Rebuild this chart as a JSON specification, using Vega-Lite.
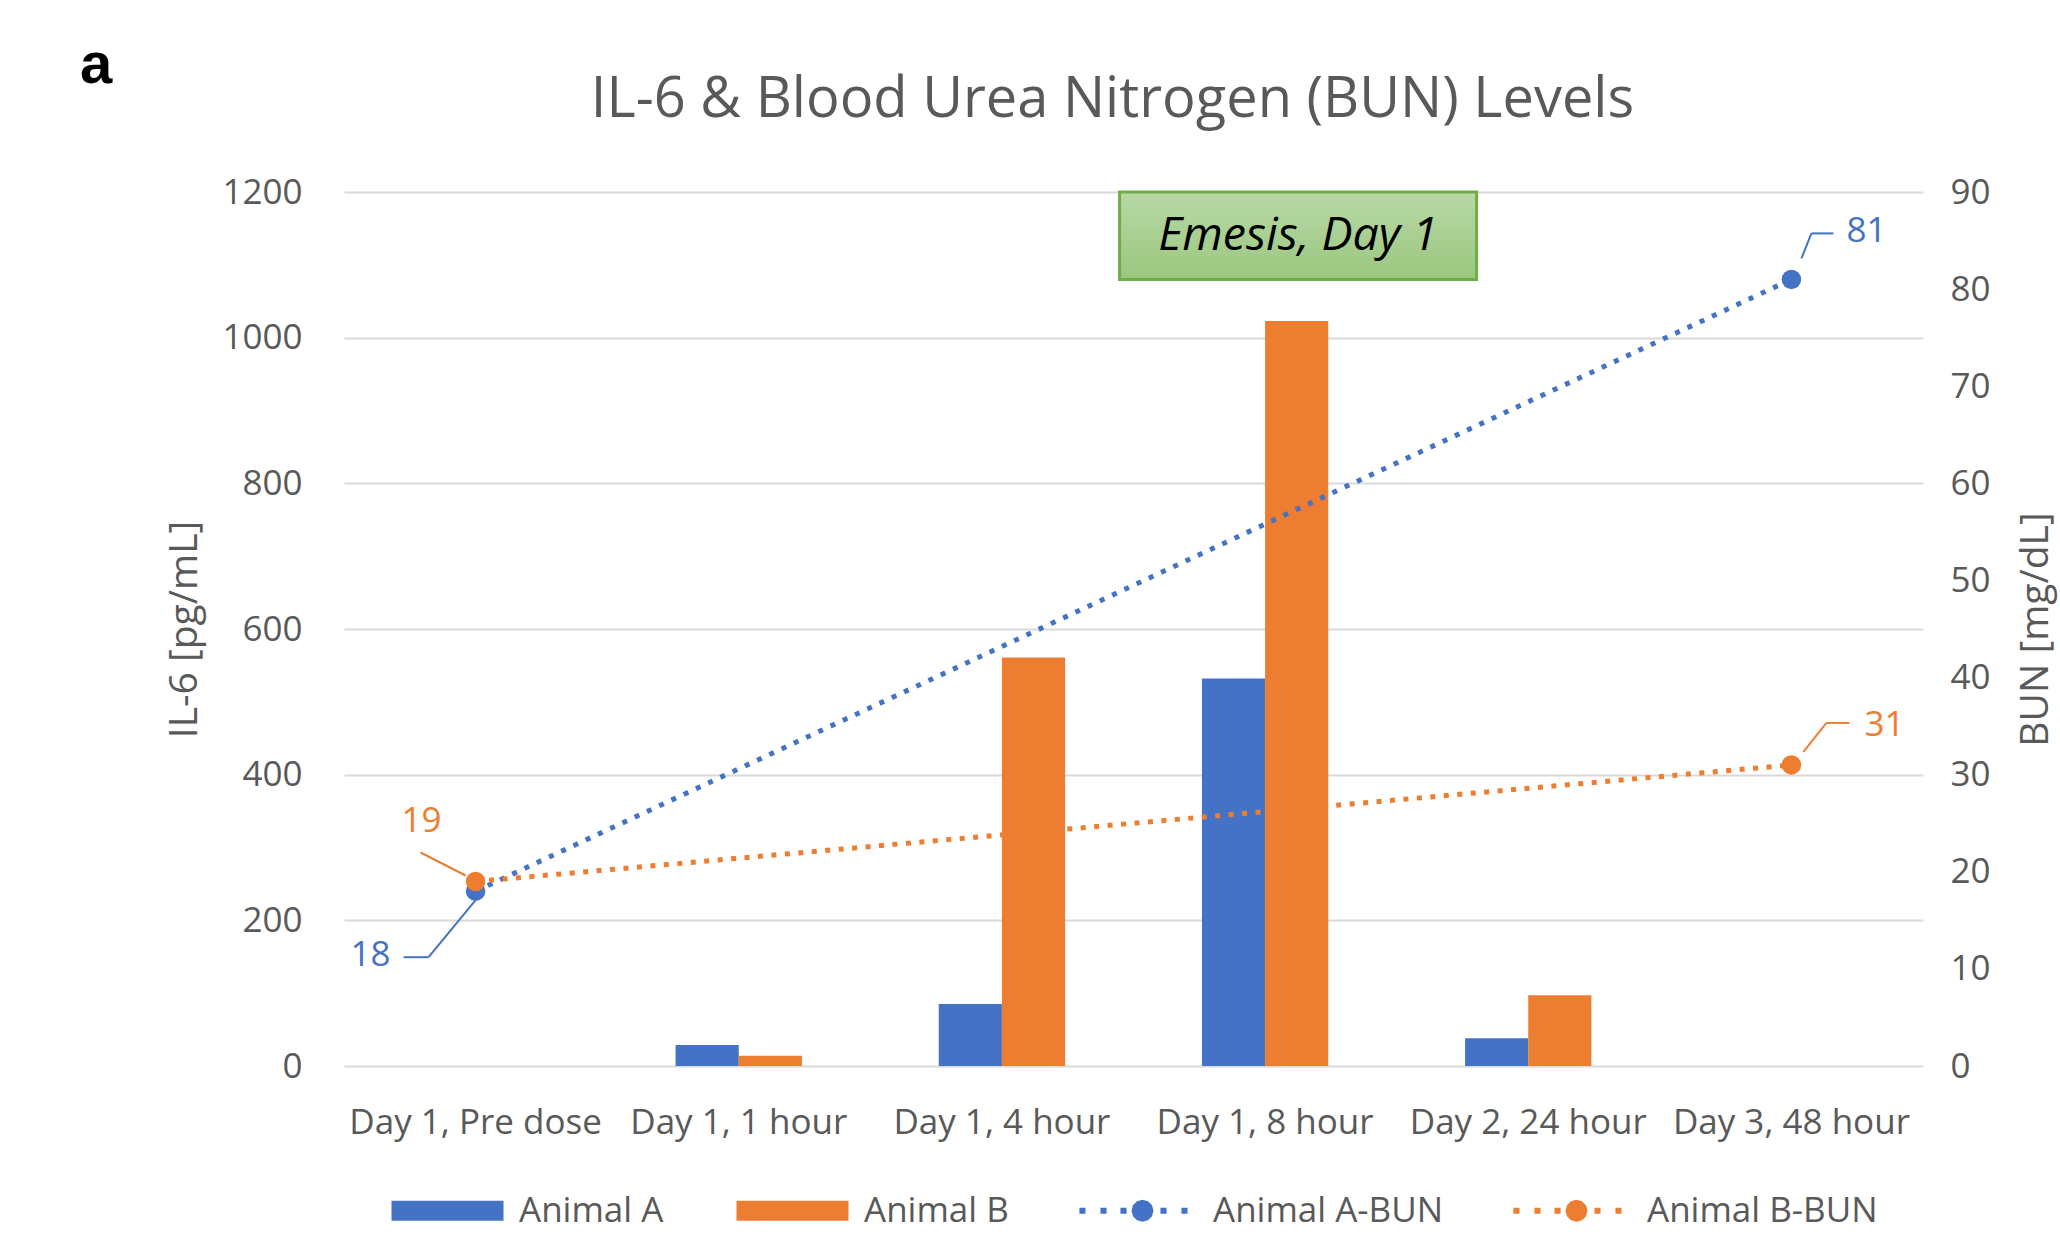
{
  "$schema": "https://vega.github.io/schema/vega-lite/v6.json",
  "background": "white",
  "padding": {"left": 79, "top": 37, "right": 6, "bottom": 7},
  "title": {"text": "a", "anchor": "start", "frame": "bounds", "font": "Liberation Sans", "fontSize": 58, "fontWeight": "bold", "color": "#000000", "dx": -86, "offset": -23},
  "datasets": {
    "il6": [
      {"time": "Day 1, 1 hour", "animal": "Animal A", "il6": 29},
      {"time": "Day 1, 1 hour", "animal": "Animal B", "il6": 14},
      {"time": "Day 1, 4 hour", "animal": "Animal A", "il6": 85},
      {"time": "Day 1, 4 hour", "animal": "Animal B", "il6": 561},
      {"time": "Day 1, 8 hour", "animal": "Animal A", "il6": 532},
      {"time": "Day 1, 8 hour", "animal": "Animal B", "il6": 1023},
      {"time": "Day 2, 24 hour", "animal": "Animal A", "il6": 38},
      {"time": "Day 2, 24 hour", "animal": "Animal B", "il6": 97}
    ],
    "bun": [
      {"time": "Day 1, Pre dose", "series": "Animal A-BUN", "bun": 18},
      {"time": "Day 3, 48 hour", "series": "Animal A-BUN", "bun": 81},
      {"time": "Day 1, Pre dose", "series": "Animal B-BUN", "bun": 19},
      {"time": "Day 3, 48 hour", "series": "Animal B-BUN", "bun": 31}
    ]
  },
  "config": {
    "view": {"stroke": null},
    "font": "Open Sans",
    "legend": {"labelFont": "Open Sans", "labelFontSize": 35, "labelColor": "#595959", "labelLimit": 400, "padding": 0, "symbolStrokeWidth": 0, "symbolOpacity": 1,
      "layout": {"bottom": {"anchor": "middle", "direction": "horizontal", "margin": 67}}}
  },
  "vconcat": [
    {
      "width": 1579,
      "height": 874,
      "title": {"text": "IL-6 & Blood Urea Nitrogen (BUN) Levels", "font": "Open Sans", "fontSize": 56, "fontWeight": "normal", "color": "#595959", "anchor": "middle", "dx": -21, "offset": 46},
      "layer": [
        {
          "layer": [
            {
              "data": {"name": "il6"},
              "mark": {"type": "bar"},
              "encoding": {
                "x": {"field": "time", "type": "nominal", "sort": null,
                  "scale": {"domain": ["Day 1, Pre dose", "Day 1, 1 hour", "Day 1, 4 hour", "Day 1, 8 hour", "Day 2, 24 hour", "Day 3, 48 hour"], "paddingInner": 0.52, "paddingOuter": 0.26},
                  "axis": {"title": null, "labelAngle": 0, "labelFontSize": 35, "labelColor": "#595959", "labelPadding": 39, "ticks": false, "domain": false, "grid": false, "labelLimit": 400}},
                "xOffset": {"field": "animal", "type": "nominal", "sort": ["Animal A", "Animal B"], "scale": {"paddingInner": 0, "paddingOuter": 0}},
                "y": {"field": "il6", "type": "quantitative", "scale": {"domain": [0, 1200], "nice": false},
                  "axis": {"title": "IL-6 [pg/mL]", "format": "d", "values": [0, 200, 400, 600, 800, 1000, 1200], "grid": true, "gridColor": "#D9D9D9", "gridWidth": 2, "ticks": false, "domain": false, "labelFlush": false, "labelFontSize": 35, "labelColor": "#595959", "labelPadding": 42, "titleFontSize": 39, "titleColor": "#595959", "titleFontWeight": "normal", "titlePadding": 17}},
                "color": {"field": "animal", "type": "nominal",
                  "scale": {"domain": ["Animal A", "Animal B"], "range": ["#4472C4", "#ED7D31"]},
                  "legend": {"title": null, "orient": "bottom", "direction": "horizontal", "symbolType": "M-1,-0.625H6V0.625H-1Z", "symbolSize": 1024, "labelOffset": 94, "columnPadding": 71, "offset": 53}}
              }
            },
            {
              "data": {"values": [{}]},
              "mark": {"type": "bar", "width": 357, "xOffset": 33,
                "fill": {"gradient": "linear", "x1": 0, "y1": 0, "x2": 0, "y2": 1, "stops": [{"offset": 0, "color": "#B8D8A6"}, {"offset": 1, "color": "#9BC77E"}]},
                "stroke": "#70AD47", "strokeWidth": 3},
              "encoding": {
                "x": {"datum": "Day 1, 8 hour", "type": "nominal"},
                "y": {"datum": 1200, "type": "quantitative"},
                "y2": {"datum": 1080}
              }
            },
            {
              "data": {"values": [{}]},
              "mark": {"type": "text", "dx": 33, "fontSize": 46.5, "fontStyle": "italic", "color": "#000000", "text": "Emesis, Day 1"},
              "encoding": {
                "x": {"datum": "Day 1, 8 hour", "type": "nominal"},
                "y": {"datum": 1140, "type": "quantitative"}
              }
            }
          ]
        },
        {
          "data": {"name": "bun"},
          "layer": [
            {
              "mark": {"type": "line", "strokeWidth": 5, "strokeDash": [5, 8.5], "strokeCap": "butt"},
              "encoding": {
                "x": {"field": "time", "type": "nominal"},
                "y": {"field": "bun", "type": "quantitative", "scale": {"domain": [0, 90], "nice": false},
                  "axis": {"orient": "right", "title": "BUN [mg/dL]", "format": "d", "values": [0, 10, 20, 30, 40, 50, 60, 70, 80, 90], "grid": false, "ticks": false, "domain": false, "labelFlush": false, "labelFontSize": 35, "labelColor": "#595959", "labelPadding": 27, "titleFontSize": 39, "titleColor": "#595959", "titleFontWeight": "normal", "titleAngle": 270, "titleBaseline": "top", "titlePadding": 26}},
                "stroke": {"field": "series", "type": "nominal", "scale": {"domain": ["Animal A-BUN", "Animal B-BUN"], "range": ["#4472C4", "#ED7D31"]}}
              }
            },
            {
              "mark": {"type": "point", "filled": true, "shape": "circle", "size": 380, "opacity": 1},
              "encoding": {
                "x": {"field": "time", "type": "nominal"},
                "y": {"field": "bun", "type": "quantitative"},
                "fill": {"field": "series", "type": "nominal", "scale": {"domain": ["Animal A-BUN", "Animal B-BUN"], "range": ["#4472C4", "#ED7D31"]},
                  "legend": {"title": null, "orient": "bottom", "direction": "horizontal", "symbolType": "M-0.88,-0.19h0.38v0.38h-0.38Z M0.435,-0.19h0.38v0.38h-0.38Z M1.685,-0.19h0.38v0.38h-0.38Z M4.185,-0.19h0.38v0.38h-0.38Z M5.4975,-0.19h0.38v0.38h-0.38Z M3.75,0L3.658,0.344L3.406,0.595L3.0625,0.6875L2.719,0.595L2.467,0.344L2.375,0L2.467,-0.344L2.719,-0.595L3.0625,-0.6875L3.406,-0.595L3.658,-0.344Z", "symbolSize": 1024, "labelOffset": 102, "columnPadding": 66, "offset": 53}}
              }
            },
            {
              "transform": [{"filter": "datum.series == 'Animal A-BUN' && datum.time == 'Day 1, Pre dose'"}],
              "mark": {"type": "text", "dx": -105, "dy": 64, "fontSize": 35, "color": "#4472C4"},
              "encoding": {"x": {"field": "time", "type": "nominal"}, "y": {"field": "bun", "type": "quantitative"}, "text": {"field": "bun", "type": "quantitative"}}
            },
            {
              "transform": [{"filter": "datum.series == 'Animal B-BUN' && datum.time == 'Day 1, Pre dose'"}],
              "mark": {"type": "text", "dx": -54, "dy": -60, "fontSize": 35, "color": "#ED7D31"},
              "encoding": {"x": {"field": "time", "type": "nominal"}, "y": {"field": "bun", "type": "quantitative"}, "text": {"field": "bun", "type": "quantitative"}}
            },
            {
              "transform": [{"filter": "datum.series == 'Animal A-BUN' && datum.time == 'Day 3, 48 hour'"}],
              "mark": {"type": "text", "dx": 75, "dy": -48, "fontSize": 35, "color": "#4472C4"},
              "encoding": {"x": {"field": "time", "type": "nominal"}, "y": {"field": "bun", "type": "quantitative"}, "text": {"field": "bun", "type": "quantitative"}}
            },
            {
              "transform": [{"filter": "datum.series == 'Animal B-BUN' && datum.time == 'Day 3, 48 hour'"}],
              "mark": {"type": "text", "dx": 93, "dy": -40, "fontSize": 35, "color": "#ED7D31"},
              "encoding": {"x": {"field": "time", "type": "nominal"}, "y": {"field": "bun", "type": "quantitative"}, "text": {"field": "bun", "type": "quantitative"}}
            },
            {
              "transform": [{"filter": "datum.series == 'Animal A-BUN' && datum.time == 'Day 1, Pre dose'"}],
              "mark": {"type": "rule", "color": "#4472C4", "strokeWidth": 2, "xOffset": 0, "yOffset": 9, "x2Offset": -47, "y2Offset": 66},
              "encoding": {"x": {"field": "time", "type": "nominal"}, "x2": {"field": "time"}, "y": {"field": "bun", "type": "quantitative"}, "y2": {"field": "bun"}}
            },
            {
              "transform": [{"filter": "datum.series == 'Animal A-BUN' && datum.time == 'Day 1, Pre dose'"}],
              "mark": {"type": "rule", "color": "#4472C4", "strokeWidth": 2, "xOffset": -47, "yOffset": 66, "x2Offset": -72, "y2Offset": 66},
              "encoding": {"x": {"field": "time", "type": "nominal"}, "x2": {"field": "time"}, "y": {"field": "bun", "type": "quantitative"}, "y2": {"field": "bun"}}
            },
            {
              "transform": [{"filter": "datum.series == 'Animal B-BUN' && datum.time == 'Day 1, Pre dose'"}],
              "mark": {"type": "rule", "color": "#ED7D31", "strokeWidth": 2, "xOffset": -10, "yOffset": -6, "x2Offset": -55, "y2Offset": -29},
              "encoding": {"x": {"field": "time", "type": "nominal"}, "x2": {"field": "time"}, "y": {"field": "bun", "type": "quantitative"}, "y2": {"field": "bun"}}
            },
            {
              "transform": [{"filter": "datum.series == 'Animal A-BUN' && datum.time == 'Day 3, 48 hour'"}],
              "mark": {"type": "rule", "color": "#4472C4", "strokeWidth": 2, "xOffset": 10, "yOffset": -21, "x2Offset": 20, "y2Offset": -46},
              "encoding": {"x": {"field": "time", "type": "nominal"}, "x2": {"field": "time"}, "y": {"field": "bun", "type": "quantitative"}, "y2": {"field": "bun"}}
            },
            {
              "transform": [{"filter": "datum.series == 'Animal A-BUN' && datum.time == 'Day 3, 48 hour'"}],
              "mark": {"type": "rule", "color": "#4472C4", "strokeWidth": 2, "xOffset": 20, "yOffset": -46, "x2Offset": 42, "y2Offset": -46},
              "encoding": {"x": {"field": "time", "type": "nominal"}, "x2": {"field": "time"}, "y": {"field": "bun", "type": "quantitative"}, "y2": {"field": "bun"}}
            },
            {
              "transform": [{"filter": "datum.series == 'Animal B-BUN' && datum.time == 'Day 3, 48 hour'"}],
              "mark": {"type": "rule", "color": "#ED7D31", "strokeWidth": 2, "xOffset": 12, "yOffset": -13, "x2Offset": 35, "y2Offset": -42},
              "encoding": {"x": {"field": "time", "type": "nominal"}, "x2": {"field": "time"}, "y": {"field": "bun", "type": "quantitative"}, "y2": {"field": "bun"}}
            },
            {
              "transform": [{"filter": "datum.series == 'Animal B-BUN' && datum.time == 'Day 3, 48 hour'"}],
              "mark": {"type": "rule", "color": "#ED7D31", "strokeWidth": 2, "xOffset": 35, "yOffset": -42, "x2Offset": 58, "y2Offset": -42},
              "encoding": {"x": {"field": "time", "type": "nominal"}, "x2": {"field": "time"}, "y": {"field": "bun", "type": "quantitative"}, "y2": {"field": "bun"}}
            }
          ]
        }
      ],
      "resolve": {"scale": {"y": "independent"}}
    }
  ]
}
